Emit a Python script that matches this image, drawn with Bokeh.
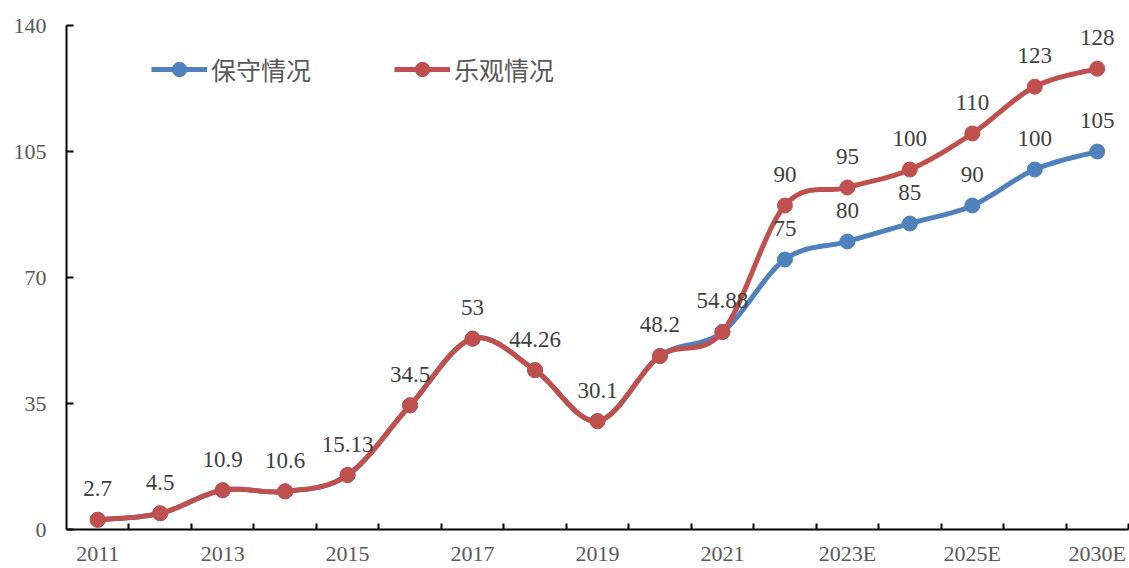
import numpy as np
from bokeh.plotting import figure
from bokeh.models import FixedTicker, Legend, LegendItem, ColumnDataSource, Range1d
from bokeh.core.properties import value
from bokeh.embed import file_html
from bokeh.resources import INLINE

categories = ["2011", "2012", "2013", "2014", "2015", "2016", "2017", "2018", "2019",
              "2020", "2021", "2022", "2023E", "2024E", "2025E", "2026E", "2030E"]
conservative = [2.7, 4.5, 10.9, 10.6, 15.13, 34.5, 53, 44.26, 30.1, 48.2, 54.88,
                75, 80, 85, 90, 100, 105]
optimistic = [2.7, 4.5, 10.9, 10.6, 15.13, 34.5, 53, 44.26, 30.1, 48.2, 54.88,
              90, 95, 100, 110, 123, 128]
series_names = ["保守情况", "乐观情况"]
shown_labels = ["2011", "2013", "2015", "2017", "2019", "2021", "2023E", "2025E", "2030E"]
y_ticks = [0, 35, 70, 105, 140]

BLUE = "#4F81BD"
RED = "#C0504D"
SERIF = "Liberation Serif"


def smooth(xs, ys, n=30):
    xs = np.asarray(xs, float)
    ys = np.asarray(ys, float)
    px = np.concatenate([[xs[0]], xs, [xs[-1]]])
    py = np.concatenate([[ys[0]], ys, [ys[-1]]])
    out_x, out_y = [], []
    for i in range(1, len(px) - 2):
        p0 = np.array([px[i - 1], py[i - 1]])
        p1 = np.array([px[i], py[i]])
        p2 = np.array([px[i + 1], py[i + 1]])
        p3 = np.array([px[i + 2], py[i + 2]])
        c1 = p1 + (p2 - p0) / 6.0
        c2 = p2 - (p3 - p1) / 6.0
        t = np.linspace(0, 1, n, endpoint=(i == len(px) - 3))
        b = ((1 - t) ** 3)[:, None] * p1 + (3 * (1 - t) ** 2 * t)[:, None] * c1 \
            + (3 * (1 - t) * t ** 2)[:, None] * c2 + (t ** 3)[:, None] * p2
        out_x.extend(b[:, 0])
        out_y.extend(b[:, 1])
    return out_x, out_y


idx = list(range(len(categories)))

p = figure(width=1129, height=568, output_backend="svg", toolbar_location=None,
           x_range=Range1d(-0.5, len(categories) - 0.5), y_range=Range1d(0, 140),
           min_border_left=66, min_border_right=1, min_border_top=25, min_border_bottom=39)
p.outline_line_color = None
p.xgrid.grid_line_color = None
p.ygrid.grid_line_color = None
p.background_fill_color = "white"
p.border_fill_color = "white"

# x axis
label_ticks = [categories.index(c) for c in shown_labels]
p.xaxis.ticker = FixedTicker(ticks=label_ticks,
                             minor_ticks=[i + 0.5 for i in range(len(categories))])
p.xaxis.major_label_overrides = {i: categories[i] for i in label_ticks}
p.xaxis.major_tick_line_color = None
p.xaxis.major_tick_in = 0
p.xaxis.major_tick_out = 0
p.xaxis.axis_label_standoff = 0
p.xaxis.minor_tick_in = 6
p.xaxis.minor_tick_out = 0
p.xaxis.minor_tick_line_color = "black"
p.xaxis.minor_tick_line_width = 2
p.xaxis.axis_line_color = "black"
p.xaxis.axis_line_width = 2
p.xaxis.major_label_text_font = SERIF
p.xaxis.major_label_text_font_size = "22px"
p.xaxis.major_label_text_color = "#595959"
p.xaxis.major_label_standoff = 11

# y axis
p.yaxis.ticker = FixedTicker(ticks=y_ticks)
p.yaxis.minor_tick_line_color = None
p.yaxis.major_tick_in = 7
p.yaxis.major_tick_out = 0
p.yaxis.major_tick_line_width = 2
p.yaxis.axis_line_width = 2
p.yaxis.major_label_text_font = SERIF
p.yaxis.major_label_text_font_size = "22px"
p.yaxis.major_label_text_color = "#595959"
p.yaxis.major_label_standoff = 20

renderers = []
for ys, color in [(conservative, BLUE), (optimistic, RED)]:
    sx, sy = smooth(idx, ys)
    ln = p.line(sx, sy, line_color=color, line_width=5)
    sc = p.scatter(idx, ys, size=15, fill_color=color, line_color=color)
    renderers.append((ln, sc))


def fmt(v):
    return "%g" % v


lab_x = list(idx)
lab_y = list(conservative)
lab_t = [fmt(v) for v in conservative]
for i, (c, o) in enumerate(zip(conservative, optimistic)):
    if c != o:
        lab_x.append(i)
        lab_y.append(o)
        lab_t.append(fmt(o))
src = ColumnDataSource(dict(x=lab_x, y=lab_y, t=lab_t))
p.text(x="x", y="y", text="t", source=src, text_font=value(SERIF),
       text_font_size="23px", text_color="#404040", text_align="center",
       text_baseline="middle", y_offset=-31)

legend = Legend(items=[LegendItem(label=series_names[0], renderers=list(renderers[0])),
                       LegendItem(label=series_names[1], renderers=list(renderers[1]))],
                orientation="horizontal", location=(85, 442))
legend.glyph_width = 56
legend.glyph_height = 36
legend.label_standoff = 4
legend.spacing = 83
legend.padding = 2
legend.margin = 0
legend.border_line_color = None
legend.background_fill_alpha = 0
legend.label_text_font = "Noto Sans CJK SC"
legend.label_text_font_size = "25px"
legend.label_text_color = "#595959"
p.add_layout(legend)

open("out.html", "w").write(file_html(p, INLINE))
